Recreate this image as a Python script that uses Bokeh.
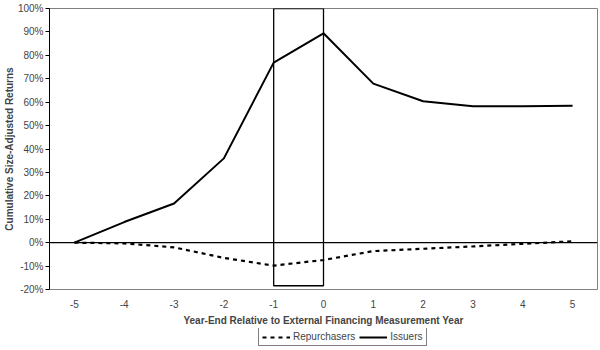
from bokeh.plotting import figure
from bokeh.layouts import column
from bokeh.models import (ColumnDataSource, FixedTicker, PrintfTickFormatter, Span,
                          BoxAnnotation, Legend, LegendItem, Range1d)
from bokeh.embed import file_html
from bokeh.resources import INLINE

years = [-5, -4, -3, -2, -1, 0, 1, 2, 3, 4, 5]
issuers = [0.0, 8.8, 16.7, 36.0, 76.9, 89.4, 67.9, 60.4, 58.3, 58.3, 58.5]
repurchasers = [0.0, -0.3, -2.0, -6.5, -9.8, -7.4, -3.6, -2.6, -1.6, -0.5, 0.6]
y_ticks = [-20, -10, 0, 10, 20, 30, 40, 50, 60, 70, 80, 90, 100]
box_years = (-1, 0)
box_returns = (-18.4, 100)

FONT = "Liberation Sans"

p = figure(width=600, height=328, output_backend="svg", toolbar_location=None,
           x_range=Range1d(-5.5, 5.5), y_range=Range1d(-20, 100),
           min_border_left=49, min_border_right=3, min_border_top=8, min_border_bottom=0)
p.background_fill_color = "white"
p.border_fill_color = "white"
p.outline_line_color = "#808080"
p.outline_line_width = 1
p.grid.visible = False

src = ColumnDataSource(dict(x=years, iss=issuers, rep=repurchasers))
p.line("x", "rep", source=src, line_color="black", line_width=2.2, line_dash="4 4")
p.line("x", "iss", source=src, line_color="black", line_width=2)

p.add_layout(Span(location=0, dimension="width", line_color="black", line_width=1.2))
p.add_layout(BoxAnnotation(left=box_years[0], right=box_years[1],
                           bottom=box_returns[0], top=box_returns[1],
                           fill_alpha=0, line_color="black", line_alpha=1, line_width=1.3))

# Y axis
ya = p.yaxis[0]
ya.ticker = FixedTicker(ticks=y_ticks)
ya.formatter = PrintfTickFormatter(format="%d%%")
ya.axis_label = "Cumulative Size-Adjusted Returns"
ya.axis_label_text_font = FONT
ya.axis_label_text_font_style = "bold"
ya.axis_label_text_font_size = "10px"
ya.axis_label_standoff = 0
ya.major_label_text_font = FONT
ya.major_label_text_font_size = "10px"
ya.major_label_standoff = 2
ya.major_tick_out = 4
ya.major_tick_in = 0
ya.minor_tick_line_color = None
ya.axis_line_color = "black"

# X axis
xa = p.xaxis[0]
xa.ticker = FixedTicker(ticks=years)
xa.formatter = PrintfTickFormatter(format="%d")
xa.axis_label = "Year-End Relative to External Financing Measurement Year"
xa.axis_label_text_font = FONT
xa.axis_label_text_font_style = "bold"
xa.axis_label_text_font_size = "10px"
xa.axis_label_standoff = 4
xa.major_label_text_font = FONT
xa.major_label_text_font_size = "10px"
xa.major_label_standoff = 4
xa.major_tick_line_color = None
xa.minor_tick_line_color = None
xa.axis_line_color = None

# Legend strip below the chart
lg = figure(width=600, height=22, output_backend="svg", toolbar_location=None,
            x_axis_type=None, y_axis_type=None, min_border=0,
            x_range=Range1d(0, 1), y_range=Range1d(0, 1))
lg.outline_line_color = None
lg.grid.visible = False
lr_rep = lg.line(x=[5, 6], y=[5, 5], line_color="black", line_width=2.2, line_dash="4 4")
lr_iss = lg.line(x=[5, 6], y=[5, 5], line_color="black", line_width=2)
legend = Legend(items=[LegendItem(label="Repurchasers", renderers=[lr_rep]),
                       LegendItem(label="Issuers", renderers=[lr_iss])],
                orientation="horizontal", location=(209, 4),
                label_text_font=FONT, label_text_font_size="10px",
                glyph_width=28, glyph_height=10, label_standoff=3, spacing=4,
                padding=3, margin=0, border_line_color="black", border_line_width=1,
                background_fill_alpha=1)
lg.add_layout(legend, "center")

layout = column(p, lg, spacing=0)
open("out.html", "w").write(file_html(layout, INLINE))
